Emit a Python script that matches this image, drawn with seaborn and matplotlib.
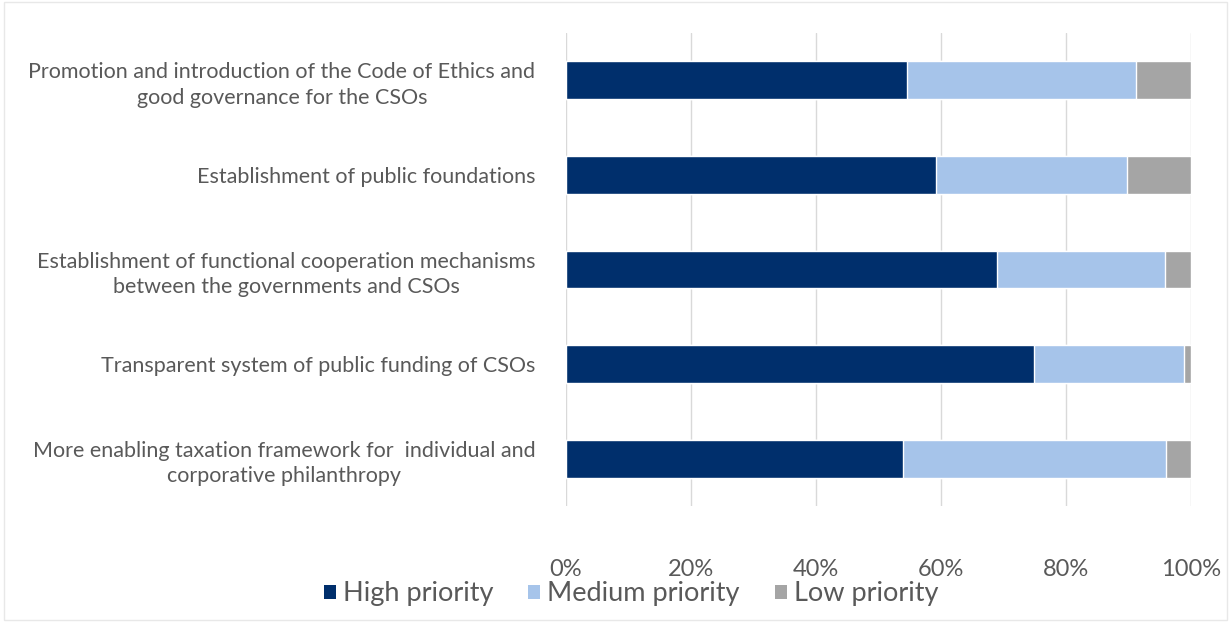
import matplotlib
matplotlib.use("Agg")
import matplotlib.pyplot as plt
import seaborn as sns
import pandas as pd
import numpy as np
from matplotlib.patches import Patch

categories = [
    "Promotion and introduction of the Code of Ethics and\ngood governance for the CSOs",
    "Establishment of public foundations",
    "Establishment of functional cooperation mechanisms\nbetween the governments and CSOs",
    "Transparent system of public funding of CSOs",
    "More enabling taxation framework for  individual and\ncorporative philanthropy",
]
high = [54.6, 59.2, 68.9, 74.9, 53.9]
medium = [36.6, 30.5, 26.9, 24.0, 42.1]
low = [8.8, 10.3, 4.2, 1.1, 4.0]
series_names = ["High priority", "Medium priority", "Low priority"]
colors = ["#002F6C", "#A6C4EA", "#A5A5A5"]
xticks = [0, 20, 40, 60, 80, 100]

sns.set_theme(style="white")
plt.rcParams["font.family"] = ["Lato", "DejaVu Sans"]

df = pd.DataFrame({"cat": categories, "high": high, "medium": medium, "low": low})
df["c1"] = df["high"]
df["c2"] = df["high"] + df["medium"]
df["c3"] = df["c2"] + df["low"]

fig = plt.figure(figsize=(12.31, 6.22), dpi=100)
ax = fig.add_axes([566 / 1231, 1 - 506 / 622, (1191 - 566) / 1231, (506 - 33) / 622])

for col, c in zip(["c3", "c2", "c1"], colors[::-1]):
    sns.barplot(data=df, y="cat", x=col, orient="h", color=c, width=0.4,
                saturation=1, ax=ax, zorder=3)

ax.set_xlim(0, 100)
ax.set_xticks(xticks)
ax.set_xticklabels([f"{t}%" for t in xticks], fontsize=17, color="#595959")
ax.tick_params(axis="x", length=0, pad=38)
ax.tick_params(axis="y", length=0, pad=22)
for lab in ax.get_yticklabels():
    lab.set_fontsize(15.5)
    lab.set_color("#595959")
    lab.set_multialignment("center")
    lab.set_linespacing(1.35)
ax.set_xlabel("")
ax.set_ylabel("")
ax.grid(axis="x", color="#D9D9D9", linewidth=1, zorder=0)
for s in ax.spines.values():
    s.set_visible(False)

handles = [Patch(facecolor=c, edgecolor="none") for c in colors]
fig.legend(handles, series_names, loc="center", bbox_to_anchor=(631 / 1231, 1 - 594 / 622),
           ncol=3, frameon=False, fontsize=19.5, handlelength=0.45, handleheight=0.45,
           handletextpad=0.25, columnspacing=1.3, labelcolor="#595959")

fig.patches.append(plt.Rectangle((0.003, 0.003), 0.994, 0.994, transform=fig.transFigure,
                                 fill=False, edgecolor="#E8E8E8", linewidth=1))

fig.savefig("out.png", dpi=100)
